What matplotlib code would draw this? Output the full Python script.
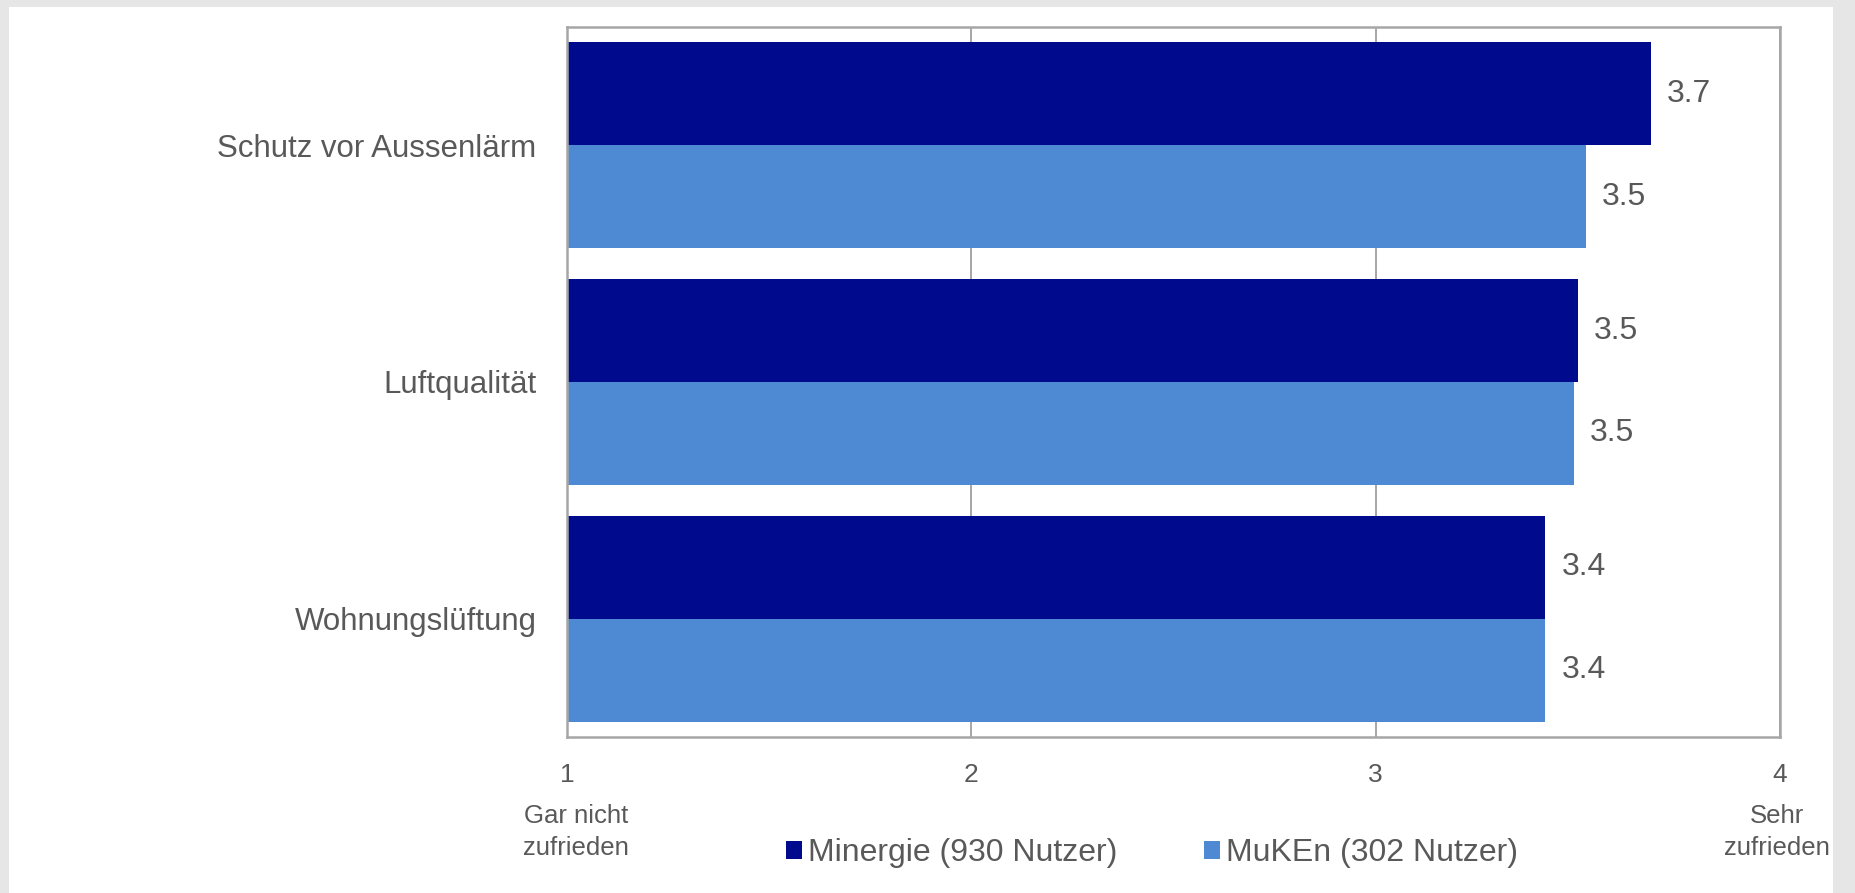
import matplotlib
matplotlib.use("Agg")
import matplotlib.pyplot as plt
from matplotlib.patches import Rectangle
import matplotlib.transforms as mtransforms
import numpy as np

# Survey results: average satisfaction on a 1-4 scale
categories = ["Schutz vor Aussenlärm", "Luftqualität", "Wohnungslüftung"]
minergie = [3.68, 3.50, 3.42]
muken = [3.52, 3.49, 3.42]
series_names = ["Minergie (930 Nutzer)", "MuKEn (302 Nutzer)"]
x_ticks = [1, 2, 3, 4]
scale_low = "Gar nicht\nzufrieden"
scale_high = "Sehr\nzufrieden"

DARK = "#000a8c"
LIGHT = "#4e8ad3"
TEXT = "#595959"
GRID = "#a6a6a6"

plt.rcParams["font.family"] = ["Liberation Sans", "DejaVu Sans"]

W, H = 1855, 893
fig = plt.figure(figsize=(W / 100, H / 100), dpi=100, facecolor="#e6e6e6")

# white panel over the grey page
fig.add_artist(Rectangle((9 / W, 0), (1833 - 9) / W, 1 - 7 / H,
                         transform=fig.transFigure, facecolor="white",
                         edgecolor="none", zorder=0))

ax = fig.add_axes([567 / W, 1 - 737 / H, (1780 - 567) / W, (737 - 27) / H])
ax.set_facecolor("white")

pos = np.arange(len(categories))
h = 0.435
ax.barh(pos - h / 2, minergie, height=h, color=DARK, zorder=3)
ax.barh(pos + h / 2, muken, height=h, color=LIGHT, zorder=3)

for y, v in zip(pos - h / 2, minergie):
    ax.annotate(f"{v:.1f}", xy=(v, y), xytext=(11.5, 0), textcoords="offset points",
                va="center", ha="left", fontsize=23, color=TEXT)
for y, v in zip(pos + h / 2, muken):
    ax.annotate(f"{v:.1f}", xy=(v, y), xytext=(11.5, 0), textcoords="offset points",
                va="center", ha="left", fontsize=23, color=TEXT)

ax.set_xlim(1, 4)
ax.set_ylim(len(categories) - 0.5, -0.5)
ax.set_xticks(x_ticks)
ax.set_xticklabels([str(t) for t in x_ticks])
ax.set_yticks(pos)
ax.set_yticklabels(categories)
ax.tick_params(axis="x", length=0, pad=19, labelsize=19, labelcolor=TEXT)
ax.tick_params(axis="y", length=0, pad=22, labelsize=22.5, labelcolor=TEXT)

ax.grid(axis="x", color=GRID, linewidth=1.4, zorder=1)
ax.grid(axis="y", visible=False)
for s in ax.spines.values():
    s.set_color(GRID)
    s.set_linewidth(1.8)
    s.set_zorder(4)

# verbal anchors of the rating scale below the end ticks
trans = mtransforms.blended_transform_factory(ax.transData, fig.transFigure)
ax.text(1, 1 - 832 / H, scale_low, transform=trans + mtransforms.ScaledTranslation(9 / 100, 0, fig.dpi_scale_trans),
        ha="center", va="center", multialignment="center", fontsize=18.5,
        color=TEXT, linespacing=1.42)
ax.text(4, 1 - 832 / H, scale_high, transform=trans + mtransforms.ScaledTranslation(-3 / 100, 0, fig.dpi_scale_trans),
        ha="center", va="center", multialignment="center", fontsize=18.5,
        color=TEXT, linespacing=1.42)

handles = [Rectangle((0, 0), 1, 1, facecolor=DARK), Rectangle((0, 0), 1, 1, facecolor=LIGHT)]
leg = fig.legend(handles, series_names, loc="center", bbox_to_anchor=(1152 / W, 1 - 853 / H),
                 ncol=2, frameon=False, fontsize=23, handlelength=0.5, handleheight=0.5,
                 handletextpad=0.2, columnspacing=2.7, borderpad=0)
for t in leg.get_texts():
    t.set_color(TEXT)

fig.savefig("out.png", dpi=100, facecolor=fig.get_facecolor())
